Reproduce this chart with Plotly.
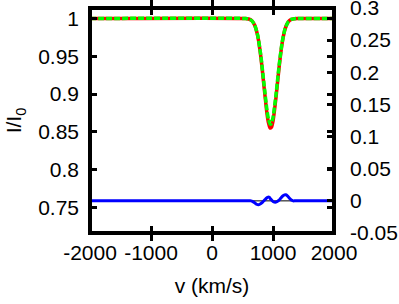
import plotly.graph_objects as go

# velocity grid (km/s) and profiles
v_prof = [-2000, 550, 600, 650, 700, 750, 800, 850, 900, 925, 950, 960, 975,
          1000, 1050, 1100, 1150, 1200, 1250, 1300, 1350, 1400, 2000]
i_red = [1.0, 1.0, 0.9993, 0.9973, 0.9911, 0.9766, 0.9497, 0.9121, 0.8750,
         0.8622, 0.8556, 0.8550, 0.8563, 0.8643, 0.8962, 0.9355, 0.9674,
         0.9866, 0.9955, 0.9988, 0.9997, 1.0, 1.0]
i_green = [1.0, 1.0, 0.9993, 0.9974, 0.9914, 0.9774, 0.9514, 0.9151, 0.8793,
           0.8669, 0.8606, 0.8600, 0.8613, 0.8690, 0.8998, 0.9377, 0.9685,
           0.9871, 0.9957, 0.9988, 0.9997, 1.0, 1.0]

v_res = [-2000, 500, 600, 640, 670, 700, 730, 760, 790, 830, 870, 900, 920,
         940, 960, 1000, 1050, 1100, 1130, 1160, 1190, 1210, 1240, 1270,
         1300, 1330, 1360, 1450, 2000]
res = [0.0, 0.0, 0.0, 0.0, -0.0012, -0.003, -0.0052, -0.0062, -0.005,
       -0.002, 0.002, 0.0048, 0.0058, 0.0055, 0.003, -0.001, -0.002, 0.001,
       0.0045, 0.0075, 0.0092, 0.0094, 0.0075, 0.004, 0.0012, 0.0, 0.0,
       0.0, 0.0]
zero_v = [-2000, 2000]
zero_y = [0.0, 0.0]

x_ticks = [-2000, -1000, 0, 1000, 2000]
x_labels = ["-2000", "-1000", "0", "1000", "2000"]
y_ticks = [0.75, 0.8, 0.85, 0.9, 0.95, 1.0]
y_labels = ["0.75", "0.8", "0.85", "0.9", "0.95", "1"]
y2_ticks = [-0.05, 0, 0.05, 0.1, 0.15, 0.2, 0.25, 0.3]
y2_labels = ["-0.05", "0", "0.05", "0.1", "0.15", "0.2", "0.25", "0.3"]

FONT = "Liberation Sans, Arial, sans-serif"
FS = 21

fig = go.Figure()
fig.add_trace(go.Scatter(x=zero_v, y=zero_y, yaxis="y2", mode="lines",
                         line=dict(color="black", width=1), hoverinfo="skip"))
fig.add_trace(go.Scatter(x=v_res, y=res, yaxis="y2", mode="lines",
                         line=dict(color="#0000ff", width=3, shape="spline",
                                   smoothing=0.6)))
fig.add_trace(go.Scatter(x=v_prof, y=i_red, mode="lines",
                         line=dict(color="#ff0000", width=3.5, shape="spline",
                                   smoothing=0.6)))
fig.add_trace(go.Scatter(x=v_prof, y=i_green, mode="lines",
                         line=dict(color="#00ff00", width=3.5, shape="spline",
                                   smoothing=0.6, dash="6px,2px")))

# plot frame
fig.add_shape(type="rect", xref="paper", yref="paper", x0=0, x1=1, y0=0, y1=1,
              line=dict(color="black", width=4), fillcolor="rgba(0,0,0,0)",
              layer="above")

tick_common = dict(ticks="inside", ticklen=7, tickwidth=3, tickcolor="black",
                   showgrid=False, zeroline=False, showline=False,
                   automargin=False, ticklabeloverflow="allow")

fig.update_layout(
    width=399, height=304,
    margin=dict(l=90, r=65, t=8, b=71),
    paper_bgcolor="white", plot_bgcolor="white",
    showlegend=False,
    font=dict(family=FONT, size=FS, color="black"),
    xaxis=dict(range=[-2000, 2000], tickvals=x_ticks, ticktext=x_labels,
               mirror="allticks", ticklabelstandoff=5,
               title=dict(text="v (km/s)", standoff=15,
                          font=dict(family=FONT, size=FS)),
               **tick_common),
    yaxis=dict(range=[0.7162, 1.0139], tickvals=y_ticks, ticktext=y_labels,
               mirror="allticks", ticklabelstandoff=10,
               title=dict(text="I/I<sub>0</sub>", standoff=10,
                          font=dict(family=FONT, size=FS)),
               **tick_common),
    yaxis2=dict(range=[-0.05, 0.3], tickvals=y2_ticks, ticktext=y2_labels,
                ticklabelstandoff=15, overlaying="y", side="right",
                **tick_common),
)

fig.write_html("out.html",
               config={"displayModeBar": False},
               post_script="document.body.style.margin='0px';"
                           "document.body.style.overflow='hidden';")
